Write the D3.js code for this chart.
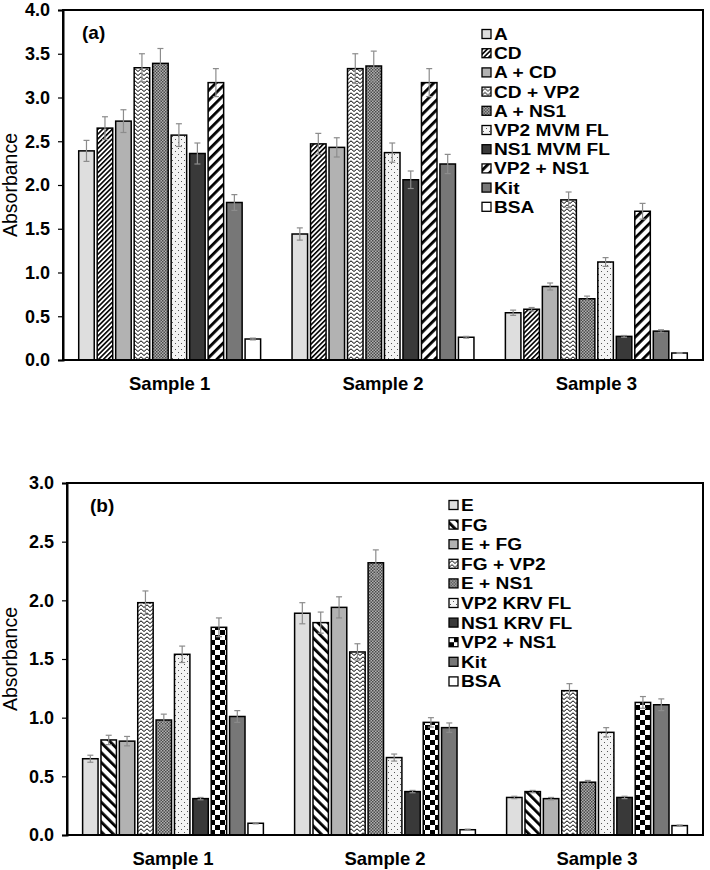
<!DOCTYPE html>
<html>
<head>
<meta charset="utf-8">
<script src="https://cdn.jsdelivr.net/npm/d3@7"></script>
<style>
  body { margin: 0; background: #fff; }
  text { font-family: "Liberation Sans", Arial, sans-serif; }
</style>
</head>
<body>
<div id="container"></div>
<script>
let w = 710;
let h = 870;

// data
let samples = ["Sample 1", "Sample 2", "Sample 3"];
let seriesA = ["A", "CD", "A + CD", "CD + VP2", "A + NS1", "VP2 MVM FL", "NS1 MVM FL", "VP2 + NS1", "Kit", "BSA"];
let seriesB = ["E", "FG", "E + FG", "FG + VP2", "E + NS1", "VP2 KRV FL", "NS1 KRV FL", "VP2 + NS1", "Kit", "BSA"];

let absA = [
  [2.39, 2.65, 2.73, 3.34, 3.39, 2.57, 2.36, 3.17, 1.80, 0.24],
  [1.44, 2.47, 2.43, 3.33, 3.36, 2.37, 2.06, 3.17, 2.24, 0.26],
  [0.54, 0.58, 0.84, 1.83, 0.70, 1.12, 0.27, 1.70, 0.33, 0.08]
];
let errA = [
  [0.12, 0.13, 0.13, 0.16, 0.17, 0.13, 0.12, 0.16, 0.09, 0.01],
  [0.07, 0.12, 0.11, 0.17, 0.17, 0.11, 0.10, 0.16, 0.11, 0.01],
  [0.03, 0.02, 0.04, 0.09, 0.03, 0.05, 0.01, 0.09, 0.015, 0.005]
];
let absB = [
  [0.65, 0.81, 0.80, 1.98, 0.98, 1.54, 0.31, 1.77, 1.01, 0.10],
  [1.89, 1.81, 1.94, 1.56, 2.32, 0.66, 0.37, 0.96, 0.915, 0.045],
  [0.32, 0.37, 0.31, 1.23, 0.45, 0.875, 0.32, 1.13, 1.11, 0.08]
];
let errB = [
  [0.03, 0.04, 0.04, 0.10, 0.05, 0.07, 0.01, 0.08, 0.05, 0.005],
  [0.09, 0.09, 0.09, 0.07, 0.11, 0.03, 0.01, 0.04, 0.04, 0.005],
  [0.01, 0.01, 0.01, 0.06, 0.015, 0.04, 0.01, 0.05, 0.05, 0.005]
];
let ticksA = [0, 0.5, 1, 1.5, 2, 2.5, 3, 3.5, 4];
let ticksB = [0, 0.5, 1, 1.5, 2, 2.5, 3];

// fill for each bar position (patterns defined below)
let fillsA = ["#dedede", "url(#hatchFine)", "#b2b2b2", "url(#zigzag)", "url(#checkSmall)", "url(#dots)", "#393939", "url(#hatchUp)", "#777777", "#ffffff"];
let fillsB = ["#dedede", "url(#hatchDown)", "#b2b2b2", "url(#zigzag)", "url(#checkSmall)", "url(#dots)", "#393939", "url(#checkBig)", "#777777", "#ffffff"];

let svg = d3.select("#container")
  .append("svg")
    .attr("width", w)
    .attr("height", h);

let defs = svg.append("defs");

function stripePattern(id, size, lw, angle) {
  let p = defs.append("pattern")
    .attr("id", id)
    .attr("patternUnits", "userSpaceOnUse")
    .attr("width", size)
    .attr("height", size)
    .attr("patternTransform", "rotate(" + angle + ")");
  p.append("rect").attr("width", size).attr("height", size).attr("fill", "#fff");
  p.append("rect").attr("width", lw).attr("height", size).attr("fill", "#000");
}
stripePattern("hatchFine", 3.4, 1.6, 45);
stripePattern("hatchUp", 7, 2.8, 45);
stripePattern("hatchDown", 7, 2.8, -45);

let zz = defs.append("pattern")
  .attr("id", "zigzag")
  .attr("patternUnits", "userSpaceOnUse")
  .attr("width", 6).attr("height", 4);
zz.append("rect").attr("width", 6).attr("height", 4).attr("fill", "#fff");
zz.append("path").attr("d", "M0,3.5 L3,0.8 L6,3.5").attr("fill", "none").attr("stroke", "#000").attr("stroke-width", 1);

let cs = defs.append("pattern")
  .attr("id", "checkSmall")
  .attr("patternUnits", "userSpaceOnUse")
  .attr("width", 3).attr("height", 3);
cs.append("rect").attr("width", 3).attr("height", 3).attr("fill", "#b0b0b0");
cs.append("rect").attr("width", 1.5).attr("height", 1.5).attr("fill", "#4a4a4a");
cs.append("rect").attr("x", 1.5).attr("y", 1.5).attr("width", 1.5).attr("height", 1.5).attr("fill", "#4a4a4a");

let dt = defs.append("pattern")
  .attr("id", "dots")
  .attr("patternUnits", "userSpaceOnUse")
  .attr("width", 6).attr("height", 6);
dt.append("rect").attr("width", 6).attr("height", 6).attr("fill", "#f4f4f4");
dt.append("rect").attr("x", 1).attr("y", 1).attr("width", 1).attr("height", 1).attr("fill", "#555");
dt.append("rect").attr("x", 4).attr("y", 4).attr("width", 1).attr("height", 1).attr("fill", "#555");

let cb = defs.append("pattern")
  .attr("id", "checkBig")
  .attr("patternUnits", "userSpaceOnUse")
  .attr("width", 10).attr("height", 10);
cb.append("rect").attr("width", 10).attr("height", 10).attr("fill", "#fff");
cb.append("rect").attr("width", 5).attr("height", 5).attr("fill", "#000");
cb.append("rect").attr("x", 5).attr("y", 5).attr("width", 5).attr("height", 5).attr("fill", "#000");

function drawPanel(opt) {
  let g = svg.append("g");

  let x = d3.scaleBand().domain(samples).range([opt.left, opt.right]);
  let xs = d3.scaleBand().domain(d3.range(opt.series.length))
    .range([0, x.bandwidth()])
    .paddingInner(0.16)
    .paddingOuter(0.85);
  let y = d3.scaleLinear().domain([0, opt.max]).range([opt.bottom, opt.top]);

  let rows = [];
  samples.forEach(function(s, si) {
    opt.series.forEach(function(name, k) {
      rows.push({ sample: s, k: k, v: opt.values[si][k], e: opt.errors[si][k] });
    });
  });

  // bars
  g.selectAll(".bar").data(rows).enter()
    .append("rect")
      .attr("class", "bar")
      .attr("x", function(d) { return x(d.sample) + xs(d.k); })
      .attr("y", function(d) { return y(d.v); })
      .attr("width", xs.bandwidth())
      .attr("height", function(d) { return y(0) - y(d.v); })
      .attr("fill", function(d) { return opt.fills[d.k]; })
      .attr("stroke", "#000")
      .attr("stroke-width", 1.5);

  // error bars
  let eb = g.selectAll(".err").data(rows).enter()
    .append("g")
      .attr("class", "err")
      .attr("stroke", "#8c8c8c")
      .attr("stroke-width", 1.2);
  function cx(d) { return x(d.sample) + xs(d.k) + xs.bandwidth() / 2; }
  eb.append("line")
    .attr("x1", cx).attr("x2", cx)
    .attr("y1", function(d) { return y(d.v - d.e); })
    .attr("y2", function(d) { return y(d.v + d.e); });
  eb.append("line")
    .attr("x1", function(d) { return cx(d) - 3; })
    .attr("x2", function(d) { return cx(d) + 3; })
    .attr("y1", function(d) { return y(d.v + d.e); })
    .attr("y2", function(d) { return y(d.v + d.e); });
  eb.append("line")
    .attr("x1", function(d) { return cx(d) - 3; })
    .attr("x2", function(d) { return cx(d) + 3; })
    .attr("y1", function(d) { return y(d.v - d.e); })
    .attr("y2", function(d) { return y(d.v - d.e); });

  // frame
  g.append("rect")
    .attr("x", opt.left).attr("y", opt.top)
    .attr("width", opt.right - opt.left).attr("height", opt.bottom - opt.top)
    .attr("fill", "none").attr("stroke", "#000").attr("stroke-width", 2);

  // y axis
  let yAxis = g.append("g")
    .attr("transform", "translate(" + opt.left + ",0)")
    .call(d3.axisLeft(y).tickValues(opt.ticks).tickFormat(d3.format(".1f")).tickSize(5).tickPadding(8));
  yAxis.select(".domain").attr("stroke-width", 2);
  yAxis.selectAll(".tick line").attr("stroke-width", 1.2);
  yAxis.selectAll("text")
    .attr("font-family", "Liberation Sans, Arial, sans-serif")
    .attr("font-size", 18)
    .attr("font-weight", "bold")
    .attr("fill", "#000");

  // x labels
  g.selectAll(".xlab").data(samples).enter()
    .append("text")
      .attr("x", function(d) { return x(d) + x.bandwidth() / 2; })
      .attr("y", opt.bottom + 30)
      .attr("text-anchor", "middle")
      .attr("font-size", 18.5)
      .attr("font-weight", "bold")
      .text(function(d) { return d; });

  // y title
  g.append("text")
    .attr("transform", "translate(17," + (opt.top + opt.bottom) / 2 + ") rotate(-90)")
    .attr("text-anchor", "middle")
    .attr("font-size", 19.5)
    .text("Absorbance");

  // panel tag
  g.append("text")
    .attr("x", opt.tagX).attr("y", opt.top + 29)
    .attr("font-size", 19)
    .attr("font-weight", "bold")
    .text(opt.tag);

  // legend
  let lg = g.selectAll(".leg").data(opt.series).enter()
    .append("g")
      .attr("class", "leg")
      .attr("transform", function(d, i) { return "translate(" + opt.legX + "," + (opt.legY + i * opt.legStep) + ")"; });
  lg.append("rect")
    .attr("x", 0).attr("y", -opt.sq / 2)
    .attr("width", opt.sq).attr("height", opt.sq)
    .attr("fill", function(d, i) { return opt.fills[i]; })
    .attr("stroke", "#000").attr("stroke-width", 1.3);
  lg.append("text")
    .attr("transform", "translate(" + (opt.sq + 3) + ",6) scale(1.16,1)")
    .attr("font-size", 16.5)
    .attr("font-weight", "bold")
    .text(function(d) { return d; });
}

drawPanel({
  series: seriesA, values: absA, errors: errA, fills: fillsA, ticks: ticksA,
  max: 4, left: 63, right: 703, top: 10, bottom: 360,
  tag: "(a)", tagX: 82,
  legX: 482, legY: 34, legStep: 19.2, sq: 9
});

drawPanel({
  series: seriesB, values: absB, errors: errB, fills: fillsB, ticks: ticksB,
  max: 3, left: 67, right: 703, top: 483, bottom: 835,
  tag: "(b)", tagX: 90,
  legX: 449, legY: 505, legStep: 19.6, sq: 9
});
</script>
</body>
</html>
